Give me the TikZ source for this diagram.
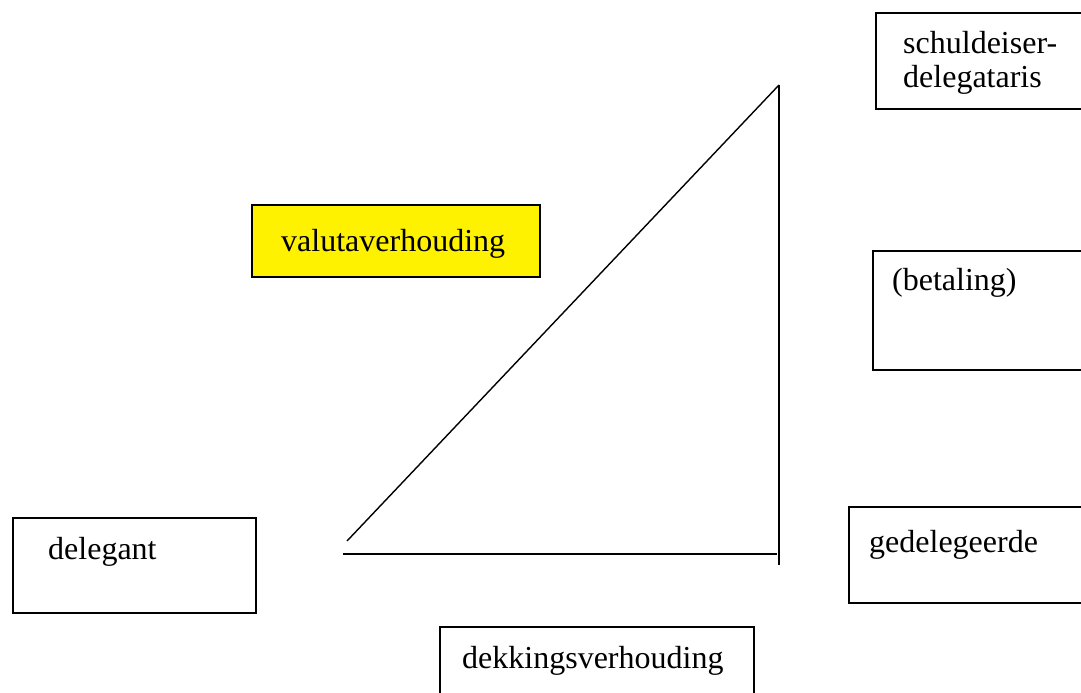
\documentclass[tikz,border=0pt]{standalone}
\usepackage{fontspec}
\setmainfont{Liberation Serif}
\begin{document}
\begin{tikzpicture}[x=1pt,y=-1pt,
  box/.style={draw=black, line width=1.6pt, rectangle, inner sep=0pt, anchor=north west},
  hilite/.style={box, fill=yellow},
  lbl/.style={anchor=base west, inner sep=0pt, font=\fontsize{32}{34}\selectfont},
  stroke/.style={line width=1.4pt}]
\useasboundingbox (0,0) rectangle (1081,693);

% parties and relations
\node[box, minimum width=243pt, minimum height=95pt] (delegantbox) at (12,517) {};
\node[lbl] (delegant) at (48,559) {delegant};

\node[hilite, minimum width=288pt, minimum height=72pt] (valutabox) at (251,204) {};
\node[lbl] (valuta) at (281,251) {valutaverhouding};

\node[box, minimum width=230pt, minimum height=96pt] (schuldeiserbox) at (875,12) {};
\node[lbl] (schuldeiser1) at (903,54) {schuldeiser-};
\node[lbl] (schuldeiser2) at (903,88) {delegataris};

\node[box, minimum width=230pt, minimum height=119pt] (betalingbox) at (872,250) {};
\node[lbl] (betaling) at (892,290) {(betaling)};

\node[box, minimum width=250pt, minimum height=96pt] (gedelegeerdebox) at (848,506) {};
\node[lbl] (gedelegeerde) at (869,552) {gedelegeerde};

\node[box, minimum width=314pt, minimum height=90pt] (dekkingbox) at (439,626) {};
\node[lbl] (dekking) at (462,668) {dekkingsverhouding};

% triangle of lines
\coordinate (diagstart) at (347,541);
\coordinate (apex) at (779,85);
\coordinate (vbottom) at (779,565);
\coordinate (hstart) at (343,554);
\coordinate (hend) at (777,554);
\draw[stroke] (diagstart) -- (apex);
\draw[stroke] (apex) -- (vbottom);
\draw[stroke] (hstart) -- (hend);
\end{tikzpicture}
\end{document}
